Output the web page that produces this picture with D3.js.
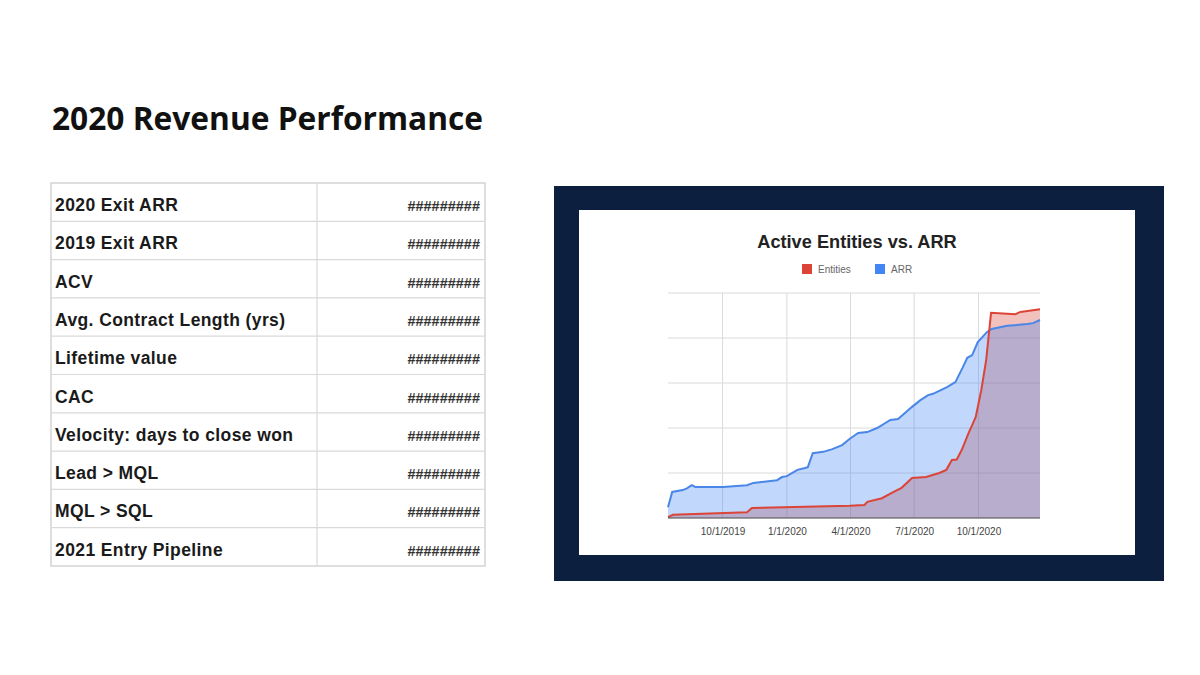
<!DOCTYPE html>
<html>
<head>
<meta charset="utf-8">
<script src="https://cdn.jsdelivr.net/npm/d3@7"></script>
<style>
    body { margin: 0; background: #fff; }
    svg { display: block; }
</style>
</head>
<body>
<div id="slide"></div>
<script>
// Table rows (values are shown as overflow hashes in the source sheet)
const metricLabels = ["2020 Exit ARR", "2019 Exit ARR", "ACV", "Avg. Contract Length (yrs)", "Lifetime value",
    "CAC", "Velocity: days to close won", "Lead > MQL", "MQL > SQL", "2021 Entry Pipeline"];
const metricValues = ["#########", "#########", "#########", "#########", "#########",
    "#########", "#########", "#########", "#########", "#########"];

// Chart series (units: gridline = 100)
const arrDates = ["2019-07-15", "2019-07-21", "2019-08-05", "2019-08-11", "2019-08-18", "2019-08-23", "2019-10-02",
    "2019-11-05", "2019-11-14", "2019-12-18", "2019-12-25", "2020-01-01", "2020-01-16", "2020-01-27", "2020-01-31",
    "2020-02-07", "2020-02-22", "2020-03-06", "2020-03-20", "2020-03-31", "2020-04-12", "2020-04-25", "2020-05-09",
    "2020-05-28", "2020-06-08", "2020-06-28", "2020-07-10", "2020-07-21", "2020-07-28", "2020-08-17", "2020-08-29",
    "2020-09-08", "2020-09-15", "2020-09-22", "2020-09-30", "2020-10-13", "2020-10-20", "2020-11-11", "2020-12-10",
    "2020-12-18", "2020-12-28"];
const arrValues = [24, 58, 62, 66, 73, 69, 69,
    73, 78, 84, 91, 93, 107, 111, 113,
    144, 147, 153, 162, 176, 189, 191, 200,
    218, 220, 247, 262, 273, 276, 291, 302,
    333, 356, 362, 391, 413, 420, 427, 431,
    433, 440];

const entityDates = ["2019-07-15", "2019-07-22", "2019-11-05", "2019-11-12", "2020-03-31", "2020-04-21", "2020-04-25",
    "2020-05-16", "2020-05-30", "2020-06-13", "2020-06-28", "2020-07-18", "2020-08-06", "2020-08-16", "2020-08-24",
    "2020-08-31", "2020-09-07", "2020-09-17", "2020-09-27", "2020-10-05", "2020-10-12", "2020-10-19", "2020-11-23",
    "2020-11-30", "2020-12-28"];
const entityValues = [2, 7, 13, 22, 27, 29, 36,
    44, 56, 67, 89, 91, 100, 107, 129,
    130, 151, 189, 224, 284, 351, 456, 453,
    458, 464];

const tickDates = ["2019-10-01", "2020-01-01", "2020-04-01", "2020-07-01", "2020-10-01"];
const yTicks = [0, 100, 200, 300, 400, 500];

const parse = d3.utcParse("%Y-%m-%d");
const fmt = d3.utcFormat("%-m/%-d/%Y");

const svg = d3.select("#slide")
    .append("svg")
    .attr("width", 1200)
    .attr("height", 675);

// Slide title
svg.append("text")
    .attr("x", 52)
    .attr("y", 130)
    .attr("font-family", "Open Sans")
    .attr("font-weight", 700)
    .attr("font-size", "31.7px")
    .attr("fill", "#111")
    .text("2020 Revenue Performance");

// ---- Table ----
const table = { x: 51, y: 183, w: 434, h: 383, split: 317 };
const rowH = table.h / metricLabels.length;
const tg = svg.append("g");

tg.append("rect")
    .attr("x", table.x)
    .attr("y", table.y)
    .attr("width", table.w)
    .attr("height", table.h)
    .attr("fill", "#fff")
    .attr("stroke", "#d4d4d4")
    .attr("stroke-width", 1.5);

tg.selectAll("line.row")
    .data(metricLabels.slice(1))
    .join("line")
    .attr("class", "row")
    .attr("x1", table.x)
    .attr("x2", table.x + table.w)
    .attr("y1", (d, i) => table.y + (i + 1) * rowH)
    .attr("y2", (d, i) => table.y + (i + 1) * rowH)
    .attr("stroke", "#d9d9d9")
    .attr("stroke-width", 1.2);

tg.append("line")
    .attr("x1", table.split)
    .attr("x2", table.split)
    .attr("y1", table.y)
    .attr("y2", table.y + table.h)
    .attr("stroke", "#d9d9d9")
    .attr("stroke-width", 1.2);

tg.selectAll("text.label")
    .data(metricLabels)
    .join("text")
    .attr("class", "label")
    .attr("x", table.x + 4)
    .attr("y", (d, i) => table.y + i * rowH + 28)
    .attr("font-family", "Liberation Sans, Arial")
    .attr("font-weight", 700)
    .attr("font-size", "17.5px")
    .attr("letter-spacing", "0.4px")
    .attr("fill", "#1a1a1a")
    .text(d => d);

tg.selectAll("text.value")
    .data(metricValues)
    .join("text")
    .attr("class", "value")
    .attr("x", table.x + table.w - 5)
    .attr("y", (d, i) => table.y + i * rowH + 28)
    .attr("text-anchor", "end")
    .attr("font-family", "Liberation Sans, Arial")
    .attr("font-weight", 700)
    .attr("font-size", "14.5px")
    .attr("fill", "#333")
    .text(d => d);

// ---- Chart frame ----
svg.append("rect")
    .attr("x", 554)
    .attr("y", 186)
    .attr("width", 610)
    .attr("height", 395)
    .attr("fill", "#0c1f3f");

svg.append("rect")
    .attr("x", 579)
    .attr("y", 210)
    .attr("width", 556)
    .attr("height", 345)
    .attr("fill", "#fff");

svg.append("text")
    .attr("x", 857)
    .attr("y", 248)
    .attr("text-anchor", "middle")
    .attr("font-family", "Liberation Sans, Arial")
    .attr("font-weight", 700)
    .attr("font-size", "18.2px")
    .attr("fill", "#222")
    .text("Active Entities vs. ARR");

// Legend
const legendItems = [
    { name: "Entities", color: "#db4437", x: 802 },
    { name: "ARR", color: "#4285f4", x: 875 }
];
const legend = svg.append("g")
    .selectAll("g")
    .data(legendItems)
    .join("g")
    .attr("transform", d => `translate(${d.x}, 264)`);

legend.append("rect")
    .attr("width", 10)
    .attr("height", 10)
    .attr("fill", d => d.color);

legend.append("text")
    .attr("x", 16)
    .attr("y", 5)
    .attr("dy", "0.35em")
    .attr("font-family", "Liberation Sans, Arial")
    .attr("font-size", "10px")
    .attr("fill", "#666")
    .text(d => d.name);

// Plot area
const plot = { left: 668, right: 1040, top: 293, bottom: 518 };

const x = d3.scaleUtc()
    .domain([parse("2019-07-15"), parse("2020-12-28")])
    .range([plot.left, plot.right]);

const y = d3.scaleLinear()
    .domain([0, 500])
    .range([plot.bottom, plot.top]);

// Gridlines
svg.append("g")
    .selectAll("line")
    .data(yTicks)
    .join("line")
    .attr("x1", plot.left)
    .attr("x2", plot.right)
    .attr("y1", d => y(d))
    .attr("y2", d => y(d))
    .attr("stroke", "#dadada");

svg.append("g")
    .selectAll("line")
    .data(tickDates)
    .join("line")
    .attr("x1", d => x(parse(d)))
    .attr("x2", d => x(parse(d)))
    .attr("y1", plot.top)
    .attr("y2", plot.bottom)
    .attr("stroke", "#dadada");

const entities = entityDates.map((d, i) => ({ date: parse(d), value: entityValues[i] }));
const arr = arrDates.map((d, i) => ({ date: parse(d), value: arrValues[i] }));

const area = d3.area()
    .x(d => x(d.date))
    .y0(y(0))
    .y1(d => y(d.value));

const line = d3.line()
    .x(d => x(d.date))
    .y(d => y(d.value));

svg.append("path")
    .datum(entities)
    .attr("d", area)
    .attr("fill", "#db4437")
    .attr("fill-opacity", 0.33);

svg.append("path")
    .datum(arr)
    .attr("d", area)
    .attr("fill", "#4285f4")
    .attr("fill-opacity", 0.33);

svg.append("path")
    .datum(arr)
    .attr("d", line)
    .attr("fill", "none")
    .attr("stroke", "#4a86e8")
    .attr("stroke-width", 2);

svg.append("path")
    .datum(entities)
    .attr("d", line)
    .attr("fill", "none")
    .attr("stroke", "#db4437")
    .attr("stroke-width", 2);

// Baseline
svg.append("line")
    .attr("x1", plot.left)
    .attr("x2", plot.right)
    .attr("y1", plot.bottom)
    .attr("y2", plot.bottom)
    .attr("stroke", "#555")
    .attr("stroke-width", 1);

// X axis labels
const xAxis = svg.append("g")
    .attr("transform", `translate(0, ${plot.bottom})`)
    .call(d3.axisBottom(x)
        .tickValues(tickDates.map(parse))
        .tickFormat(fmt)
        .tickSize(0)
        .tickPadding(10));

xAxis.select(".domain").remove();
xAxis.selectAll("text")
    .attr("font-family", "Liberation Sans, Arial")
    .attr("font-size", "10px")
    .attr("fill", "#444");
</script>
</body>
</html>
